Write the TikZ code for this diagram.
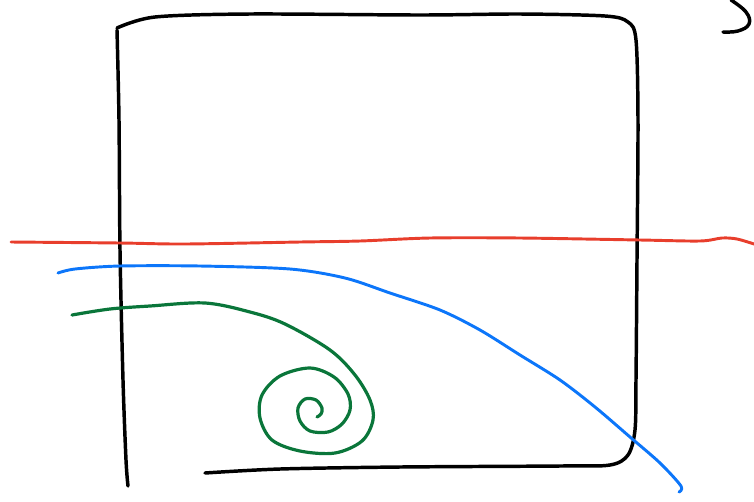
\documentclass[tikz,border=0pt]{standalone}
\definecolor{inkred}{RGB}{232,62,44}
\definecolor{inkblue}{RGB}{12,118,250}
\definecolor{inkgreen}{RGB}{10,118,58}
\begin{document}
\begin{tikzpicture}[x=0.75pt, y=-0.75pt, line cap=round, line join=round,
  pen/.style={line width=2.6pt, black},
  redpen/.style={line width=2.2pt, inkred},
  bluepen/.style={line width=2.2pt, inkblue},
  greenpen/.style={line width=2.4pt, inkgreen}]
  \useasboundingbox (0,0) rectangle (754,501);
  % box
  \draw[pen] plot[smooth, tension=0.5] coordinates {(117,30) (119,120) (120,250) (123,380) (126,460) (128,486)};
  \draw[pen] plot[smooth, tension=0.5] coordinates {(117,28) (155,17) (250,14) (420,15) (520,14) (605,16) (628,22) (636,40) (638,120) (637,260) (636,380) (635,430) (628,455) (610,465) (560,466) (400,467) (280,469) (205,473)};
  % top right stroke
  \draw[pen] plot[smooth, tension=0.7] coordinates {(731,0) (746,12) (749,24) (738,31) (723,32)};
  % red line
  \draw[redpen] plot[smooth, tension=0.5] coordinates {(11,242) (120,243) (185,244) (300,242) (360,241) (430,238) (520,238) (640,240) (700,241) (722,238) (737,239) (754,244)};
  % blue line
  \draw[bluepen] plot[smooth, tension=0.5] coordinates {(58,273) (75,269) (120,266) (200,266) (290,269) (345,278) (390,293) (440,310) (480,330) (520,355) (560,380) (595,407) (630,437) (660,463) (681,486) (679,492)};
  % green spiral
  \draw[greenpen] plot[smooth, tension=0.55] coordinates {(72,315) (110,309) (150,306) (205,303) (250,312) (285,324) (330,350) (355,375) (370,400) (373,420) (362,441) (335,453) (300,451) (272,440) (260,418) (262,395) (280,376) (310,368) (334,377) (348,394) (350,410) (342,424) (328,432) (310,431) (300,421) (298,408) (305,399) (316,400) (322,408) (321,414) (317,417)};
\end{tikzpicture}
\end{document}
